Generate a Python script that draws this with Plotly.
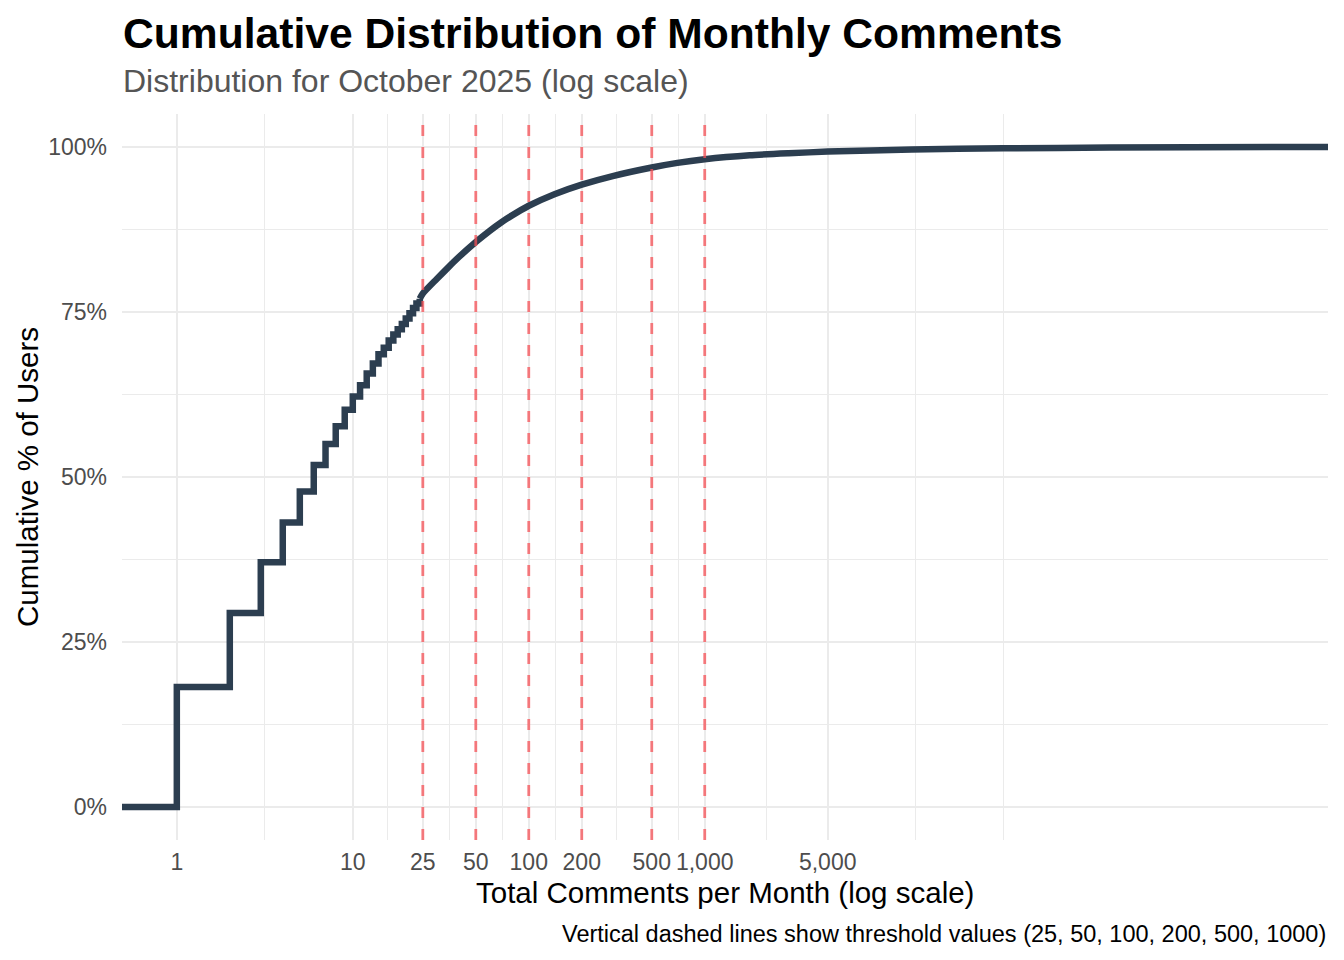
import math
import plotly.graph_objects as go

# ---------------- data ----------------
comments = [1, 2, 3, 4, 5, 6, 7, 8, 9, 10, 11, 12, 13, 14, 15, 16, 17, 18, 19, 20,
            21, 22, 23, 24, 25, 30, 35, 40, 50, 60, 70, 80, 100, 140, 200, 300,
            500, 700, 1000, 1800, 3000, 5000, 15000, 50000, 200000, 1700000]
cum_pct = [18.2, 29.4, 37.1, 43.1, 47.8, 51.8, 55.0, 57.7, 60.2, 62.2, 63.9, 65.7,
           67.2, 68.6, 69.6, 70.7, 71.6, 72.4, 73.2, 74.0, 74.8, 75.6, 76.3, 77.0,
           77.8, 80.0, 81.8, 83.3, 85.6, 87.3, 88.6, 89.6, 91.1, 92.85, 94.3, 95.6,
           96.9, 97.6, 98.15, 98.75, 99.05, 99.3, 99.62, 99.8, 99.92, 100.0]
thresholds = [25, 50, 100, 200, 500, 1000]
x_breaks = [1, 10, 25, 50, 100, 200, 500, 1000, 5000]
x_labels = ["1", "10", "25", "50", "100", "200", "500", "1,000", "5,000"]
y_breaks = [0, 25, 50, 75, 100]
y_labels = ["0%", "25%", "50%", "75%", "100%"]

step_limit = 24  # discrete steps visible up to here, smooth afterwards

# ---------------- scales (ggplot-like 5% expansion) ----------------
lmin, lmax = math.log10(min(comments)), math.log10(max(comments))
span = lmax - lmin
x_rng = [lmin - 0.05 * span, lmax + 0.05 * span]
y_rng = [-5, 105]
x_left, x_right = 10 ** x_rng[0], 10 ** x_rng[1]

# minor breaks: midpoints in log space, extended by one break step
lb = [math.log10(v) for v in x_breaks]
bd = lb[1] - lb[0]
ext = [lb[0] - bd] + lb + [lb[-1] + bd]
x_minor = []
for a, b in zip(ext[:-1], ext[1:]):
    x_minor.append((a + b) / 2)
x_minor.append(ext[-1])
x_minor = [10 ** v for v in x_minor if x_rng[0] <= v <= x_rng[1]]
y_minor = [(a + b) / 2 for a, b in zip(y_breaks[:-1], y_breaks[1:])]

# ---------------- figure ----------------
fig = go.Figure()
LINE = "#2C3E50"
n = comments.index(step_limit) + 1
fig.add_trace(go.Scatter(
    x=[x_left] + comments[:n], y=[0] + cum_pct[:n], mode="lines",
    line=dict(color=LINE, width=6.5, shape="hv"), showlegend=False, hoverinfo="skip"))
fig.add_trace(go.Scatter(
    x=comments[n - 1:] + [x_right], y=cum_pct[n - 1:] + [100], mode="lines",
    line=dict(color=LINE, width=6.5, shape="spline", smoothing=0.6),
    showlegend=False, hoverinfo="skip"))

for t in thresholds:
    fig.add_trace(go.Scatter(
        x=[t, t], y=[y_rng[0], y_rng[1]], mode="lines",
        line=dict(color="rgba(246,80,86,0.75)", width=2.8, dash="11px,11px"),
        showlegend=False, hoverinfo="skip"))

FONT = "Liberation Sans, Arial, sans-serif"
GRID = "#EBEBEB"
OFF = 8  # page body margin
fig.update_layout(
    width=1344, height=960,
    margin=dict(l=122 - OFF, r=16 + OFF, t=114 - OFF, b=120 + OFF),
    paper_bgcolor="white", plot_bgcolor="white",
    font=dict(family=FONT, color="#000000"),
    showlegend=False,
    xaxis=dict(
        type="log", range=x_rng, tickmode="array", tickvals=x_breaks, ticktext=x_labels,
        showgrid=True, gridcolor=GRID, gridwidth=2, zeroline=False, showline=False,
        ticks="", ticklabelstandoff=6,
        tickfont=dict(family=FONT, size=23, color="#4D4D4D"),
        minor=dict(tickmode="array", tickvals=x_minor, showgrid=True,
                   gridcolor=GRID, gridwidth=1, ticks=""),
    ),
    yaxis=dict(
        range=y_rng, tickmode="array", tickvals=y_breaks, ticktext=y_labels,
        showgrid=True, gridcolor=GRID, gridwidth=2, zeroline=False, showline=False,
        ticks="", ticklabelstandoff=14,
        tickfont=dict(family=FONT, size=23, color="#4D4D4D"),
        minor=dict(tickmode="array", tickvals=y_minor, showgrid=True,
                   gridcolor=GRID, gridwidth=1, ticks=""),
    ),
)

PH = 840 - 114
PW = 1328 - 122


def py(px):
    return (840 - px) / PH


def pxx(px):
    return (px - 122) / PW


annos = [
    dict(text="<b>Cumulative Distribution of Monthly Comments</b>", x=pxx(121), y=py(33),
         xanchor="left", yanchor="middle", font=dict(size=42.6, color="#000000", family=FONT)),
    dict(text="Distribution for October 2025 (log scale)", x=pxx(121), y=py(81),
         xanchor="left", yanchor="middle", font=dict(size=32, color="#555555", family=FONT)),
    dict(text="Total Comments per Month (log scale)", x=0.5, y=py(892),
         xanchor="center", yanchor="middle", font=dict(size=29.5, color="#000000", family=FONT)),
    dict(text="Cumulative % of Users", x=pxx(27), y=0.5, textangle=-90,
         xanchor="center", yanchor="middle", font=dict(size=29.5, color="#000000", family=FONT)),
    dict(text="Vertical dashed lines show threshold values (25, 50, 100, 200, 500, 1000)",
         x=1.0, y=py(934), xanchor="right", yanchor="middle",
         font=dict(size=23.5, color="#000000", family=FONT)),
]
for a in annos:
    fig.add_annotation(xref="paper", yref="paper", showarrow=False, **a)

fig.write_html("out.html")
